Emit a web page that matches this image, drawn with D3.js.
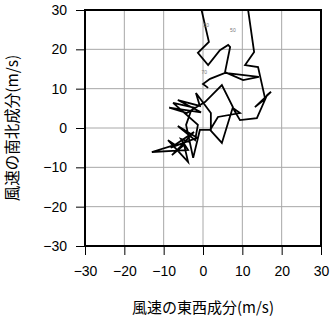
<!DOCTYPE html>
<html>
<head>
<meta charset="utf-8">
<script src="https://cdn.jsdelivr.net/npm/d3@7"></script>
<style>
  body { margin: 0; background: #fff; }
  .cjk { font-family: "Noto Sans CJK JP", sans-serif; }
</style>
</head>
<body>
<script>
// wind components (m/s), surface -> top
let uWind = [-3.3, -5.6, -3.8, -13.0, -7.1, -8.9, -3.8, -4.8, -7.9, -5.8,
             -2.3, -8.2, -1.5, -6.4, -2.0, -1.3, -7.6, -2.0, -4.1, -8.6,
             -0.5, -6.4, -0.8, -1.8, 2.0, 2.0, -0.8, -2.5, -4.3, -3.0, 0.5,
             4.8, 7.6, 4.8, 1.8, 3.8, 9.4, 7.6, 9.4, 13.7, 16.3, 17.3, 13.2, 15.8,
             14.0, 10.7, 13.0, 10.9, -1.3,
             1.5, -1.3, 1.3, 4.3, 6.4, 6.9, 5.6, 10.2, 14.2, 5.6, 1.8, 0.0, 1.3];
let vWind = [-3.6, -2.8, -5.6, -6.1, -4.3, -3.1, -8.6, -4.3, -6.9, -4.8,
             -1.0, -5.0, -2.5, 0.5, -3.1, 0.8, 6.4, 5.1, 3.8, 5.2,
             4.0, 7.1, 5.6, 8.9, 3.8, -0.5, -0.5, -7.6, 0.8, 4.5, 6.6,
             10.9, 5.3, -3.8, -0.5, 2.8, 3.8, 5.1, 2.0, 2.5, 8.4, 9.2, 5.3, 7.4,
             15.5, 16.0, 19.3, 34.0, 34.0,
             21.9, 19.1, 16.0, 19.8, 21.1, 20.6, 14.2, 12.2, 13.0, 14.0, 12.5, 11.2, 10.2];

// small level labels
let levelText = ["30", "50", "70"];
let levelU = [0.8, 7.6, 0.3];
let levelV = [26.2, 24.9, 14.2];

let tickValues = [-30, -20, -10, 0, 10, 20, 30];
let xTitle = "風速の東西成分(m/s)";
let yTitle = "風速の南北成分(m/s)";

let width = 331, height = 318;
let margin = {left: 85, right: 10, top: 10, bottom: 72};

let canvas = d3.select("body")
            .append("svg")
            .attr("width", width)
            .attr("height", height);

let x = d3.scaleLinear().domain([-30, 30]).range([margin.left, width - margin.right]);
let y = d3.scaleLinear().domain([-30, 30]).range([height - margin.bottom, margin.top]);

canvas.append("clipPath").attr("id", "plotclip")
    .append("rect")
    .attr("x", x(-30)).attr("y", y(30))
    .attr("width", x(30) - x(-30)).attr("height", y(-30) - y(30));

// grid
let grid = canvas.append("g");
grid.selectAll(".gx").data(tickValues.slice(1, -1)).enter().append("line")
    .attr("x1", d => x(d)).attr("x2", d => x(d))
    .attr("y1", y(30)).attr("y2", y(-30))
    .attr("stroke", "#a8a8a8").attr("stroke-width", 1);
grid.selectAll(".gy").data(tickValues.slice(1, -1)).enter().append("line")
    .attr("y1", d => y(d)).attr("y2", d => y(d))
    .attr("x1", x(-30)).attr("x2", x(30))
    .attr("stroke", "#a8a8a8").attr("stroke-width", 1);

// hodograph line
let points = uWind.map((u, i) => [x(u), y(vWind[i])]);
let line = d3.line();
canvas.append("path")
    .datum(points)
    .attr("d", line)
    .attr("clip-path", "url(#plotclip)")
    .attr("fill", "none")
    .attr("stroke", "#000")
    .attr("stroke-width", 1.8)
    .attr("stroke-linejoin", "miter");

canvas.selectAll(".lvl").data(levelText).enter().append("text")
    .attr("x", (d, i) => x(levelU[i]))
    .attr("y", (d, i) => y(levelV[i]))
    .attr("dy", "0.35em")
    .attr("text-anchor", "middle")
    .attr("font-size", 5)
    .attr("font-family", "'Liberation Sans', Arial, sans-serif")
    .attr("fill", "#777")
    .text(d => d);

// axes
let fmt = d => d < 0 ? "\u2212" + Math.abs(d) : String(d);
let xAxis = canvas.append("g")
    .attr("transform", `translate(0,${y(-30)})`)
    .call(d3.axisBottom(x).tickValues(tickValues).tickSize(9).tickPadding(11).tickFormat(fmt));
let yAxis = canvas.append("g")
    .attr("transform", `translate(${x(-30)},0)`)
    .call(d3.axisLeft(y).tickValues(tickValues).tickSize(9).tickPadding(9).tickFormat(fmt));
[xAxis, yAxis].forEach(a => {
    a.attr("font-family", "'Liberation Sans', Arial, sans-serif").attr("font-size", 14);
    a.select(".domain").remove();
    a.selectAll("text").attr("fill", "#000");
    a.selectAll("line").attr("stroke", "#000");
});

// frame
canvas.append("rect")
    .attr("x", x(-30)).attr("y", y(30))
    .attr("width", x(30) - x(-30)).attr("height", y(-30) - y(30))
    .attr("fill", "none").attr("stroke", "#000").attr("stroke-width", 2);

canvas.append("text").attr("class", "cjk")
    .attr("x", x(0)).attr("y", 308)
    .attr("dy", "0.35em")
    .attr("text-anchor", "middle")
    .attr("font-size", 15)
    .text(xTitle);

canvas.append("text").attr("class", "cjk")
    .attr("transform", `translate(13,${y(0)}) rotate(-90)`)
    .attr("dy", "0.35em")
    .attr("text-anchor", "middle")
    .attr("font-size", 15.5)
    .text(yTitle);
</script>
</body>
</html>
